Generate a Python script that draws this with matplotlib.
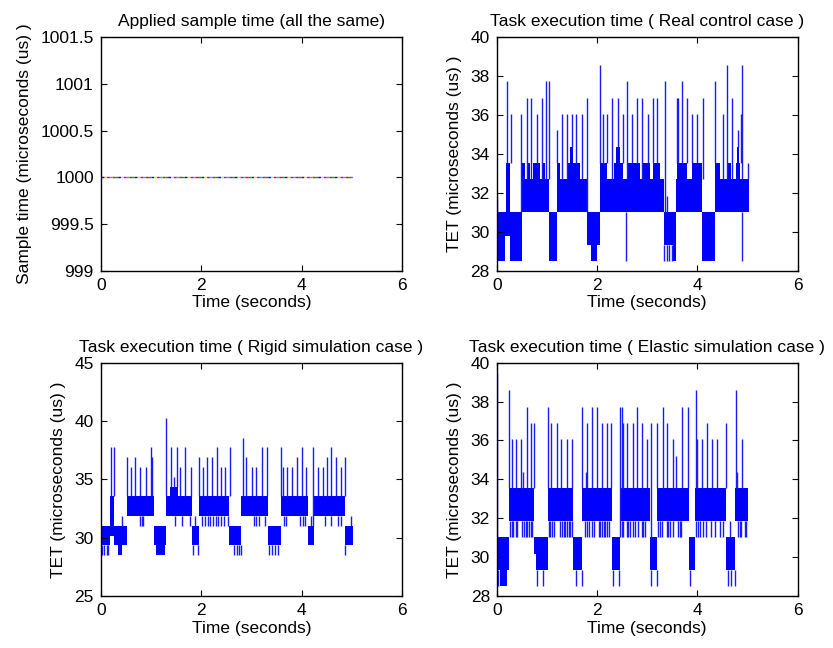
import matplotlib
matplotlib.use('Agg')
import matplotlib.pyplot as plt

plt.rcParams['font.family'] = ['Liberation Sans', 'DejaVu Sans']

# ---- sample time panel ----
ts_time = [0, 5]
ts_value = [1000, 1000]
ts_colors = ['#0000ff', '#00a000', '#ff0000', '#00c0c0', '#c000c0', '#e0e000']

# ---- Real control case ----
real_t0 = [0.00, 0.165, 0.19, 0.27, 0.50, 1.05, 1.20, 1.79, 1.87, 2.06, 3.34, 3.52, 3.58, 4.10, 4.35,
           0.50, 0.63, 0.73, 0.92, 1.20, 1.43, 1.47, 2.06, 2.33, 2.37, 2.62, 2.92, 3.12, 3.59, 3.89,
           4.35, 4.62, 4.78, 4.80]
real_t1 = [0.165, 0.19, 0.27, 0.50, 1.05, 1.20, 1.79, 2.06, 2.00, 3.34, 3.58, 3.58, 4.10, 4.35, 5.02,
           0.57, 0.67, 0.87, 0.96, 1.27, 1.66, 1.52, 2.19, 2.52, 2.46, 2.86, 3.06, 3.26, 3.79, 4.09,
           4.45, 4.68, 4.86, 4.84]
real_lo = [28.5, 29.8, 29.8, 28.5, 31.02, 28.5, 31.02, 29.34, 28.5, 31.02, 29.34, 28.5, 31.02, 28.5, 31.02,
           31.02, 31.02, 31.02, 31.02, 31.02, 31.02, 31.02, 31.02, 31.02, 31.02, 31.02, 31.02, 31.02, 31.02,
           31.02, 31.02, 31.02, 31.02, 31.02]
real_hi = [31.02, 31.02, 33.54, 31.02, 32.7, 31.02, 32.7, 31.02, 29.34, 32.7, 31.02, 29.34, 32.7, 31.02, 32.7,
           33.54, 33.54, 33.54, 33.54, 33.54, 33.54, 34.38, 33.54, 33.54, 34.38, 33.54, 33.54, 33.54, 33.54,
           33.54, 33.54, 33.54, 33.54, 34.38]
real_spike_t = [0.0, 0.199, 0.279, 0.485, 0.598, 0.684, 0.797, 0.904, 0.983, 1.043, 1.196, 1.296, 1.395,
                1.495, 1.588, 1.708, 1.807, 2.06, 2.113, 2.193, 2.299, 2.419, 2.512, 2.605, 2.704, 2.804,
                2.904, 3.01, 3.11, 3.203, 3.362, 3.39, 3.588, 3.621, 3.688, 3.787, 3.887, 3.987, 4.106,
                4.352, 4.505, 4.585, 4.698, 4.817, 4.87, 4.884, 5.017]
real_spike_v = [31.86, 37.74, 36.06, 36.06, 36.9, 36.9, 36.06, 36.9, 37.74, 37.74, 35.22, 36.06, 36.06,
                36.06, 36.06, 36.06, 36.9, 38.58, 36.06, 36.06, 36.9, 36.9, 36.06, 37.74, 36.06, 36.9,
                36.9, 36.06, 36.9, 36.9, 37.74, 31.86, 36.9, 36.9, 37.74, 36.9, 36.06, 36.06, 36.9,
                37.74, 36.06, 38.58, 36.9, 35.22, 36.06, 38.58, 33.54]
real_dip_t = [2.58, 3.34, 3.39, 3.44, 3.49, 4.88]
real_dip_v = [28.5, 28.5, 28.5, 28.5, 28.5, 28.5]

# ---- Rigid simulation case ----
rigid_t0 = [0.00, 0.19, 0.26, 0.34, 0.53, 1.06, 1.09, 1.29, 1.38, 1.82, 1.96, 2.56, 2.80, 3.33, 3.59,
            4.12, 4.25, 4.86]
rigid_t1 = [0.19, 0.26, 0.53, 0.42, 1.06, 1.29, 1.28, 1.82, 1.53, 1.96, 2.56, 2.80, 3.33, 3.59, 4.12,
            4.25, 4.86, 5.01]
rigid_lo = [29.34, 30.18, 29.34, 28.5, 31.86, 29.34, 28.5, 31.86, 31.86, 29.34, 31.86, 29.34, 31.86,
            29.34, 31.86, 29.34, 31.86, 29.34]
rigid_hi = [31.02, 33.54, 31.02, 29.34, 33.54, 31.02, 29.34, 33.54, 34.38, 31.02, 33.54, 31.02, 33.54,
            31.02, 33.54, 31.02, 33.54, 31.02]
rigid_spike_t = [0.199, 0.265, 0.42, 0.524, 0.61, 0.69, 0.78, 0.90, 0.995, 1.02, 1.293, 1.39, 1.46,
                 1.51, 1.58, 1.68, 1.79, 1.87, 1.956, 2.04, 2.12, 2.21, 2.31, 2.39, 2.48, 2.57, 2.825,
                 2.90, 3.0, 3.09, 3.2, 3.30, 3.58, 3.63, 3.71, 3.81, 3.90, 4.0, 4.09, 4.18, 4.23, 4.33,
                 4.43, 4.50, 4.58, 4.68, 4.77, 4.85, 4.97]
rigid_spike_v = [37.74, 37.74, 31.86, 36.9, 36.06, 36.9, 36.06, 36.06, 37.74, 36.9, 40.26, 37.74, 35.22,
                 37.74, 36.06, 37.74, 36.06, 31.86, 36.9, 36.06, 36.9, 36.9, 37.74, 36.06, 36.06, 37.74,
                 38.58, 36.9, 36.06, 36.06, 37.74, 37.74, 37.74, 36.06, 36.06, 36.06, 36.9, 37.74, 36.06,
                 31.86, 37.74, 36.06, 36.06, 36.9, 37.74, 36.9, 36.06, 36.9, 31.86]
rigid_dip_t = [0.02, 0.07, 0.12, 0.15, 1.83, 1.94, 2.66, 2.705, 2.75, 2.79, 3.355, 3.40, 3.47, 3.53, 4.86,
               0.79, 0.82, 0.85, 1.48, 1.62, 1.78, 2.02, 2.07, 2.13, 2.18, 2.23, 2.29, 2.34, 2.39, 2.46,
               2.53, 3.04, 3.08, 3.14, 3.27, 3.65, 3.69, 3.97, 4.02, 4.06, 4.46, 4.59, 4.73, 4.78]
rigid_dip_v = [28.5] * 15 + [31.02] * 29

# ---- Elastic simulation case ----
elastic_t0 = [0.00, 0.07, 0.25, 0.74, 0.77, 1.01, 1.52, 1.70, 2.29, 2.46, 3.05, 3.20, 3.83, 3.96, 4.58, 4.76]
elastic_t1 = [0.25, 0.20, 0.74, 0.77, 1.01, 1.52, 1.70, 2.29, 2.46, 3.05, 3.20, 3.83, 3.96, 4.58, 4.76, 5.02]
elastic_lo = [29.34, 28.5, 31.86, 30.18, 29.34, 31.86, 29.34, 31.86, 29.34, 31.86, 29.34, 31.86, 29.34,
              31.86, 29.34, 31.86]
elastic_hi = [31.02, 29.34, 33.54, 31.02, 31.02, 33.54, 31.02, 33.54, 31.02, 33.54, 31.02, 33.54, 31.02,
              33.54, 31.02, 33.54]
elastic_spike_t = [0.0, 0.246, 0.30, 0.38, 0.485, 0.51, 0.598, 0.678, 0.731, 1.017, 1.083, 1.196, 1.283,
                   1.396, 1.496, 1.695, 1.78, 1.795, 1.895, 2.0, 2.094, 2.194, 2.28, 2.447, 2.487, 2.51,
                   2.60, 2.707, 2.786, 2.886, 2.986, 3.066, 3.20, 3.305, 3.385, 3.505, 3.584, 3.684, 3.804,
                   3.97, 3.997, 4.103, 4.196, 4.302, 4.396, 4.582, 4.65, 4.768, 4.795, 4.894]
elastic_spike_v = [39.45, 38.58, 36.06, 36.06, 36.06, 34.38, 37.74, 36.9, 36.9, 37.74, 36.9, 36.9, 36.06,
                   36.06, 36.06, 37.74, 34.38, 36.9, 37.74, 37.74, 36.9, 36.9, 36.9, 37.74, 37.74, 36.9,
                   36.9, 36.9, 37.74, 36.9, 36.06, 36.9, 36.9, 37.74, 36.9, 36.06, 35.22, 37.74, 37.74,
                   38.58, 36.06, 36.06, 36.9, 36.06, 36.06, 36.9, 31.86, 38.58, 34.38, 36.06]
elastic_dip_t = [0.03, 0.79, 0.92, 1.57, 1.70, 2.31, 2.44, 3.07, 3.19, 3.85, 4.62, 4.68, 4.75,
                 0.27, 0.30, 0.33, 0.37, 0.40, 0.50, 0.53, 0.57, 0.60, 0.63, 0.67, 0.70, 1.03, 1.06, 1.10,
                 1.13, 1.26, 1.30, 1.33, 1.36, 1.40, 1.43, 1.46, 1.50, 1.76, 1.79, 1.83, 1.90, 1.93, 2.03,
                 2.06, 2.10, 2.13, 2.16, 2.20, 2.23, 2.49, 2.52, 2.59, 2.62, 2.65, 2.72, 2.75, 2.82, 2.89,
                 2.92, 2.95, 3.22, 3.25, 3.29, 3.39, 3.42, 3.45, 3.52, 3.62, 3.65, 3.68, 3.98, 4.01, 4.05,
                 4.12, 4.18, 4.28, 4.35, 4.45, 4.52, 4.81, 4.85, 4.88, 4.95, 4.98]
elastic_dip_v = [28.5] * 13 + [31.02] * 71


def draw_case(ax, t0, t1, lo, hi, spike_t, spike_v, dip_t, dip_v):
    for a, b, l, h in zip(t0, t1, lo, hi):
        ax.fill_between([a, b], [l, l], [h, h], color='#0000ff', lw=0)

    def covering(t):
        idx = [i for i in range(len(t0)) if t0[i] - 0.012 <= t <= t1[i] + 0.012]
        if not idx:
            idx = [min(range(len(t0)), key=lambda i: min(abs(t - t0[i]), abs(t - t1[i])))]
        return idx

    bases = [max(hi[i] for i in covering(t)) for t in spike_t]
    ax.vlines(spike_t, bases, spike_v, colors='#1a1aff', lw=1.0)
    tops = [min(lo[i] for i in covering(t)) for t in dip_t]
    ax.vlines(dip_t, dip_v, tops, colors='#1a1aff', lw=1.0)


def style(ax, ylim, yticks, ylabels, title, ylabel):
    ax.set_xlim(0, 6)
    ax.set_xticks([0, 2, 4, 6])
    ax.set_ylim(*ylim)
    ax.set_yticks(yticks)
    ax.set_yticklabels(ylabels)
    ax.tick_params(direction='in', top=True, right=True, length=4, width=0.8,
                   labelsize=12.5, pad=5)
    for s in ax.spines.values():
        s.set_linewidth(1.0)
    ax.set_title(title, fontsize=12.5, pad=8)
    ax.set_xlabel('Time (seconds)', fontsize=12.5, labelpad=2)
    ax.set_ylabel(ylabel, fontsize=12.5, labelpad=6)


fig = plt.figure(figsize=(8.33, 6.48), dpi=100)
ax1 = fig.add_axes([0.1209, 0.5823, 0.3621, 0.3601])
ax2 = fig.add_axes([0.5963, 0.5823, 0.3613, 0.3601])
ax3 = fig.add_axes([0.1209, 0.0802, 0.3621, 0.3601])
ax4 = fig.add_axes([0.5966, 0.0802, 0.3608, 0.3601])

n = len(ts_colors)
for i, c in enumerate(ts_colors):
    ax1.plot(ts_time, ts_value, color=c, lw=1.0, linestyle=(i * 2, (2, 2 * (n - 1) + 0)))
style(ax1, (999, 1001.5), [999, 999.5, 1000, 1000.5, 1001, 1001.5],
      ['999', '999.5', '1000', '1000.5', '1001', '1001.5'],
      'Applied sample time (all the same)', 'Sample time (microseconds (us) )')

draw_case(ax2, real_t0, real_t1, real_lo, real_hi, real_spike_t, real_spike_v, real_dip_t, real_dip_v)
style(ax2, (28, 40), [28, 30, 32, 34, 36, 38, 40], ['28', '30', '32', '34', '36', '38', '40'],
      'Task execution time ( Real control case )', 'TET (microseconds (us) )')

draw_case(ax3, rigid_t0, rigid_t1, rigid_lo, rigid_hi, rigid_spike_t, rigid_spike_v, rigid_dip_t, rigid_dip_v)
style(ax3, (25, 45), [25, 30, 35, 40, 45], ['25', '30', '35', '40', '45'],
      'Task execution time ( Rigid simulation case )', 'TET (microseconds (us) )')

draw_case(ax4, elastic_t0, elastic_t1, elastic_lo, elastic_hi, elastic_spike_t, elastic_spike_v,
          elastic_dip_t, elastic_dip_v)
style(ax4, (28, 40), [28, 30, 32, 34, 36, 38, 40], ['28', '30', '32', '34', '36', '38', '40'],
      'Task execution time ( Elastic simulation case )', 'TET (microseconds (us) )')

fig.savefig('out.png', dpi=100)
